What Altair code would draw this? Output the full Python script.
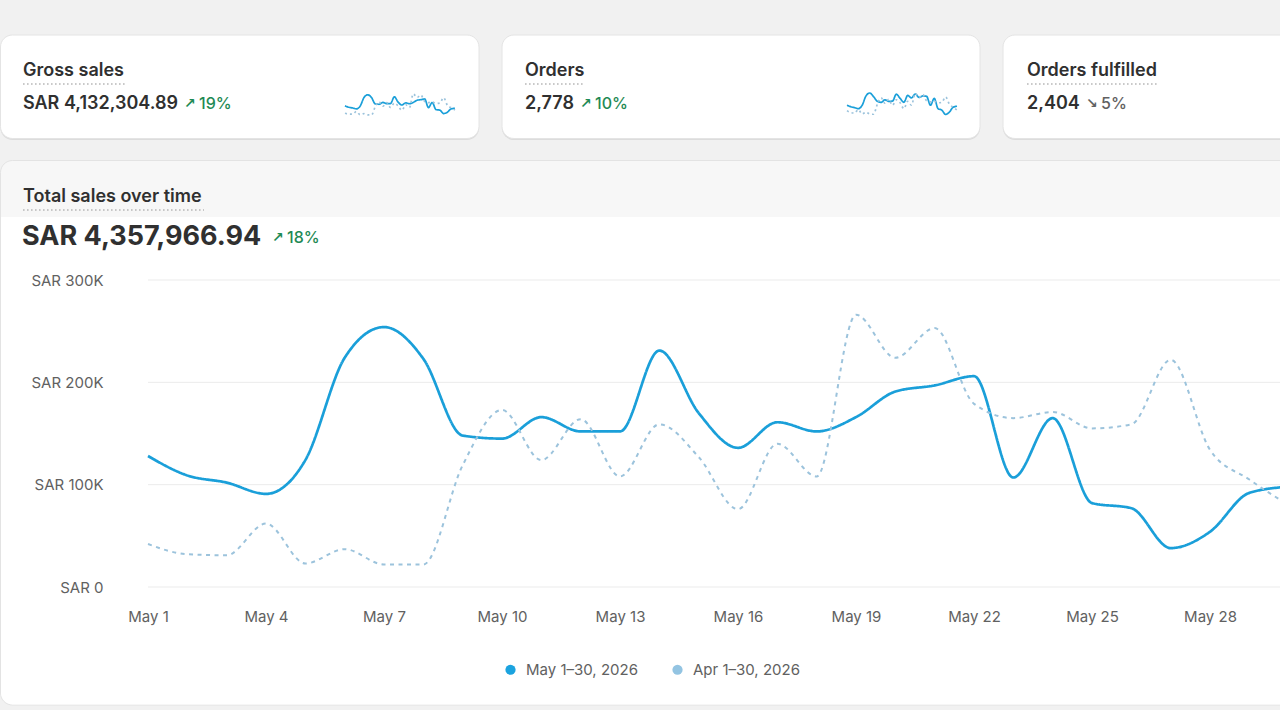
import altair as alt
import pandas as pd

# ---- data -------------------------------------------------------------
days = list(range(1, 31))
periods = ["May 1–30, 2026", "Apr 1–30, 2026"]

# Total sales per day (SAR)
sales_may = [128000, 109000, 102000, 91000, 124000, 224000, 254000, 223000, 148000, 145000,
             166000, 152000, 152000, 231000, 170000, 136000, 161000, 152000, 166000, 191000,
             197000, 206000, 107000, 165000, 82000, 77000, 38000, 54000, 92000, 98000]
sales_apr = [42000, 32000, 31000, 62000, 23000, 37000, 22000, 22000, 119000, 173000,
             124000, 164000, 108000, 159000, 127000, 76000, 140000, 108000, 266000, 224000,
             253000, 179000, 165000, 171000, 155000, 159000, 222000, 134000, 105000, 80000]

# Gross sales per day (SAR, thousands) for the KPI sparkline
gross_may = [120, 104, 97, 87, 117, 210, 240, 210, 140, 137, 157, 144, 145, 218, 161,
             129, 152, 143, 157, 181, 187, 195, 101, 156, 78, 73, 36, 51, 87, 93]
gross_apr = [39, 30, 29, 58, 22, 35, 21, 21, 112, 163, 117, 154, 102, 150, 119,
             71, 132, 102, 250, 211, 238, 168, 155, 161, 146, 150, 209, 126, 99, 75]

# Orders per day for the KPI sparkline
orders_may = [80, 74, 70, 66, 80, 118, 130, 115, 96, 92, 102, 96, 97, 125, 108,
              92, 120, 110, 126, 112, 118, 116, 80, 108, 66, 60, 42, 52, 72, 76]
orders_apr = [58, 50, 48, 62, 44, 52, 44, 43, 84, 110, 88, 104, 80, 102, 90,
              66, 96, 80, 128, 112, 124, 98, 94, 96, 90, 92, 114, 84, 72, 60]

y_ticks = [0, 100000, 200000, 300000]
x_ticks = [1, 4, 7, 10, 13, 16, 19, 22, 25, 28]

# ---- style ------------------------------------------------------------
W, H = 1280, 710
FONT = "Inter"
INK = "#303030"
MUTED = "#616161"
GREEN = "#1f8a55"
BLUE = "#1a9fd9"
PALE = "#9cc3dc"
CURVE = dict(interpolate="monotone")

one = pd.DataFrame({"k": [0]})


def label(txt, x, y, size=18, weight=600, color=INK, font=FONT):
    return alt.Chart(one).mark_text(
        text=txt, align="left", baseline="middle", font=font,
        fontSize=size, fontWeight=weight, color=color
    ).encode(x=alt.value(x), y=alt.value(y))


def arrow(txt, x, y, color):
    return label(txt, x, y, size=14, weight="bold", color=color, font="DejaVu Sans")


def box(x1, x2, y1, y2, fill, stroke=None, **corners):
    kw = dict(fill=fill, strokeWidth=1)
    if stroke:
        kw["stroke"] = stroke
    kw.update(corners)
    return alt.Chart(one).mark_rect(**kw).encode(
        x=alt.value(x1), x2=alt.value(x2), y=alt.value(y1), y2=alt.value(y2))


def dotted(x1, x2, y):
    return alt.Chart(one).mark_rule(
        color="#b8b8b8", strokeWidth=1.3, strokeDash=[1.6, 2.4]
    ).encode(x=alt.value(x1), x2=alt.value(x2), y=alt.value(y))


def spark(now, prev, x1, x2, y1, y2):
    df = pd.DataFrame({"day": days * 2, "v": now + prev,
                       "p": ["now"] * 30 + ["prev"] * 30})
    return alt.Chart(df).mark_line(strokeWidth=1.7, **CURVE).encode(
        x=alt.X("day:Q", axis=None, scale=alt.Scale(domain=[1, 30], range=[x1, x2])),
        y=alt.Y("v:Q", axis=None, scale=alt.Scale(zero=False, range=[y2, y1])),
        color=alt.Color("p:N", legend=None,
                        scale=alt.Scale(domain=["now", "prev"], range=[BLUE, PALE])),
        strokeDash=alt.StrokeDash("p:N", legend=None,
                                  scale=alt.Scale(domain=["now", "prev"], range=[[1, 0], [2, 3]])),
        detail="p:N",
    )


# ---- KPI cards --------------------------------------------------------
cards = []
for x1, x2 in [(0.5, 479), (502, 980), (1003, 1500)]:
    cards.append(box(x1, x2, 36.5, 140, "#dcdcdc", cornerRadius=12))
    cards.append(box(x1, x2, 35, 138.5, "#ffffff", "#e4e4e4", cornerRadius=12))

card_text = [
    label("Gross sales", 23, 71), dotted(23, 125, 84),
    label("SAR 4,132,304.89", 23, 104),
    arrow("↗", 184, 104, GREEN),
    label("19%", 199, 104, size=16, weight=500, color=GREEN),
    label("Orders", 525, 71), dotted(525, 585, 84),
    label("2,778", 525, 104),
    arrow("↗", 580, 104, GREEN),
    label("10%", 595, 104, size=16, weight=500, color=GREEN),
    label("Orders fulfilled", 1027, 71), dotted(1027, 1158, 84),
    label("2,404", 1027, 104),
    arrow("↘", 1086, 104, MUTED),
    label("5%", 1101, 104, size=16, weight=500, color=MUTED),
]

sparks = [
    spark(gross_may, gross_apr, 345, 455, 93, 115),
    spark(orders_may, orders_apr, 847, 957, 93, 115),
]

# ---- main panel -------------------------------------------------------
panel = [
    box(0.5, 1500, 160.5, 705, "#f7f7f7", "#e3e3e3", cornerRadius=12),
    box(1, 1500, 217, 704.5, "#ffffff",
        cornerRadiusBottomLeft=12, cornerRadiusBottomRight=12),
]

panel_text = [
    label("Total sales over time", 23, 197), dotted(23, 204, 210),
    label("SAR 4,357,966.94", 22, 237, size=27, weight=700),
    arrow("↗", 272, 238, GREEN),
    label("18%", 287, 238, size=16, weight=500, color=GREEN),
]

x_scale = alt.Scale(domain=[1, 30], range=[148, 1288.7])
y_scale = alt.Scale(domain=[0, 300000], range=[587, 280], nice=False, zero=True)

grid = alt.Chart(pd.DataFrame({"v": y_ticks})).mark_rule(
    color="#ebebeb", strokeWidth=1
).encode(
    y=alt.Y("v:Q", scale=y_scale, axis=None),
    x=alt.value(148), x2=alt.value(W),
)

sales = pd.DataFrame({
    "day": days * 2,
    "sales": sales_may + sales_apr,
    "period": [periods[0]] * 30 + [periods[1]] * 30,
})

lines = alt.Chart(sales).mark_line(**CURVE).encode(
    x=alt.X("day:Q", scale=x_scale,
            axis=alt.Axis(values=x_ticks, labelExpr="'May ' + datum.value",
                          title=None, grid=False, domain=False, ticks=False, tickSize=0,
                          labelPadding=22, offset=-(H - 587), zindex=1, labelFlush=False,
                          labelFont=FONT, labelFontSize=15, labelColor=MUTED)),
    y=alt.Y("sales:Q", scale=y_scale,
            axis=alt.Axis(values=y_ticks,
                          labelExpr="'SAR ' + (datum.value == 0 ? '0' : format(datum.value / 1000, 'd') + 'K')",
                          title=None, grid=False, domain=False, ticks=False, tickSize=0,
                          labelPadding=0, offset=-103, zindex=1,
                          labelFont=FONT, labelFontSize=15, labelColor=MUTED)),
    color=alt.Color("period:N", legend=None,
                    scale=alt.Scale(domain=periods, range=[BLUE, PALE])),
    strokeDash=alt.StrokeDash("period:N", legend=None,
                              scale=alt.Scale(domain=periods, range=[[1, 0], [4, 4.5]])),
    strokeWidth=alt.StrokeWidth("period:N", legend=None,
                                scale=alt.Scale(domain=periods, range=[2.7, 2])),
    order=alt.Order("period:N", sort="ascending"),
)

# Legend carried by an off-canvas point layer so its symbols are filled dots
legend_pts = alt.Chart(pd.DataFrame({"period": periods})).mark_point(
    filled=True, shape="circle", opacity=1
).encode(
    x=alt.value(-60), y=alt.value(-60),
    color=alt.Color("period:N", sort=periods,
                    scale=alt.Scale(domain=periods, range=["#1ba3df", "#93c4e2"]),
                    legend=alt.Legend(title=None, orient="none", legendX=503, legendY=662,
                                      direction="horizontal", symbolType="circle",
                                      symbolSize=105, symbolStrokeWidth=0,
                                      labelFont=FONT, labelFontSize=15, labelColor=MUTED,
                                      labelOffset=8, columnPadding=32)),
)

chart = alt.layer(
    *cards, *panel, grid, *sparks, lines, legend_pts, *card_text, *panel_text
).resolve_scale(
    x="independent", y="independent", color="independent",
    strokeDash="independent", strokeWidth="independent"
).properties(
    width=W, height=H, padding=0,
    autosize=alt.AutoSizeParams(type="none"),
).configure(
    background="#f1f1f1",
).configure_view(stroke=None)

chart.save("out.html", embed_options={"renderer": "svg", "actions": False})
